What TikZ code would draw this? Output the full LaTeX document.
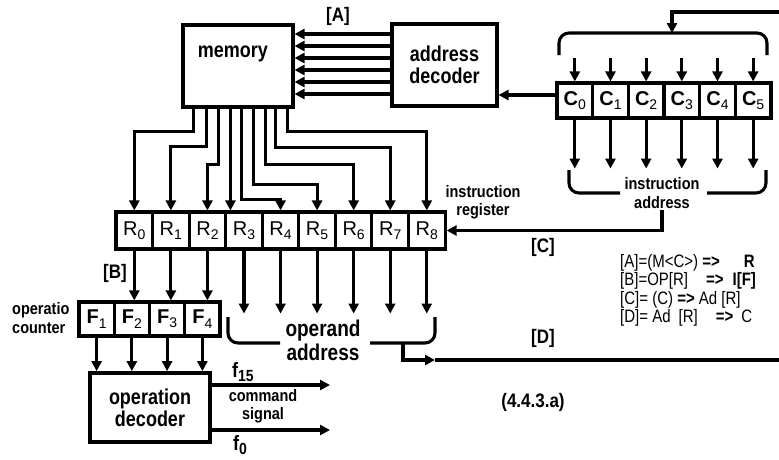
\documentclass[tikz,border=0pt]{standalone}
\usepackage{fontspec}
\setmainfont{Liberation Sans}
\usetikzlibrary{arrows.meta, calc}

\newcommand{\lsub}[1]{\raisebox{-0.4ex}{\fontsize{14}{14}\selectfont #1}}

\begin{document}
\begin{tikzpicture}[x=1pt, y=-1pt,
    wire/.style={line width=3.1pt},
    arr/.style={wire, -{Triangle[length=10pt, width=10pt]}},
    box/.style={draw, line width=3.1pt, inner sep=0pt},
    cell/.style={box, minimum height=37pt, font=\fontsize{20}{20}\selectfont},
    lbl/.style={font=\bfseries\fontsize{17}{17}\selectfont, yscale=1.15},
    small/.style={font=\bfseries\fontsize{14.5}{16}\selectfont, align=center, inner sep=1pt, yscale=1.15},
    big/.style={font=\bfseries\fontsize{18}{18.5}\selectfont, align=center, yscale=1.2}]
  \useasboundingbox (0,0) rectangle (779,459);

  \node[box, minimum width=110pt, minimum height=82pt] (memory) at (238,66) {};
  \node[big] (memtxt) at (233,54) {memory};
  \node[box, big, minimum width=105pt, minimum height=68.3pt] (adec) at (444.5,65) {address\\decoder};
  \node[lbl] (labA) at (338,16) {[A]};
  \foreach \y in {34,46,58,70,82,94}
    \draw[arr] (adec.west |- 0,\y) -- (memory.east |- 0,\y);

  \foreach \i in {0,...,5}
    \node[cell, minimum width=35.67pt, minimum height=35pt] (c\i) at (574.8+35.67*\i,100.5) {{\bfseries C}\lsub{\i}};
  \foreach \i in {0,...,8}
    \node[cell, minimum width=36.56pt] (r\i) at (134.3+36.56*\i,230.5) {R\lsub{\i}};
  \foreach \i in {1,...,4}
    \node[cell, minimum width=35.25pt, minimum height=34pt] (f\i) at (96.6+35.25*\i-35.25,319) {{\bfseries F}\lsub{\i}};

  % memory outputs to the register
  \foreach \k/\dx in {1/12,2/25,3/37,4/49,5/60,6/72,7/84,8/94,9/106}
    \coordinate (m\k) at ($(memory.south west)+(\dx,0)$);
  \foreach \k/\r/\d in {1/0/23,2/1/38,3/2/56,5/4/91,6/5/76,7/6/56,8/7/39,9/8/23}
    \draw[arr] (m\k) -- ++(0,\d) -| (r\r.north);
  \draw[arr] (m4) -- (m4 |- r3.north);

  % counter
  \draw[arr] (c0.west |- 0,95) -- (adec.east |- 0,95);
  \foreach \i in {0,...,5} {
    \draw[arr] ([yshift=23pt]c\i.north) -- (c\i.north);
    \draw[arr] (c\i.south) -- ++(0,49);
  }
  \draw[wire, rounded corners=10pt] (559,55) -- (559,33) -- (767,33) -- (767,55);
  \coordinate (ctop) at (672,33);
  \coordinate (fbin) at (779,12);
  \draw[arr] (fbin) -| (ctop);
  \draw[wire, rounded corners=10pt] (620,193) -- (569,193) -- (569,170);
  \draw[wire, rounded corners=10pt] (707,193) -- (766,193) -- (766,170);
  \node[small] (iaddr) at (662,193) {instruction\\address};
  \draw[arr] (iaddr.south) |- (r8.east);
  \node[small] (irlbl) at (483,202) {instruction\\register};
  \node[lbl] (labC) at (543,247) {[C]};

  % operation part
  \node[lbl] (labB) at (115,273) {[B]};
  \foreach \r/\f in {0/2,1/3,2/4}
    \draw[arr] (r\r.south) -- (r\r.south |- f\f.north);
  \node[small, align=left, anchor=west] (opcnt) at (11,318) {operatio\\counter};
  \node[box, big, minimum width=120pt, minimum height=57.5pt] (opdec) at (150,407.5) {operation\\decoder};
  \foreach \i in {1,...,4}
    \draw[arr] (f\i.south) -- (f\i.south |- opdec.north);
  \coordinate (s15) at (330,385);
  \coordinate (s0) at (330,430);
  \draw[arr] (opdec.east |- s15) -- (s15);
  \draw[arr] (opdec.east |- s0) -- (s0);
  \node[font=\bfseries\fontsize{18}{18}\selectfont, yscale=1.15] (f15) at (243,372) {f\lsub{15}};
  \node[font=\bfseries\fontsize{18}{18}\selectfont, yscale=1.15] (f0) at (240,445) {f\lsub{0}};
  \node[small] (cmd) at (263,406) {command\\signal};

  % operand part
  \foreach \i in {3,...,8}
    \draw[arr] (r\i.south) -- ++(0,63);
  \draw[wire, rounded corners=10pt] (280,343) -- (228,343) -- (228,317);
  \draw[wire, rounded corners=10pt] (370,343) -- (435,343) -- (435,317);
  \node[big, font=\bfseries\fontsize{19}{20}\selectfont] (opaddr) at (323,340) {operand\\address};
  \coordinate (opout) at (403,343);
  \coordinate (dmid) at (435,360);
  \coordinate (edgeD) at (779,360);
  \draw[arr] (opout) |- (dmid);
  \draw[wire] (dmid) -- (edgeD);
  \node[lbl] (labD) at (543,338) {[D]};

  \node[anchor=north west, align=left, inner sep=0pt, yscale=1.2, font=\fontsize{15}{15.3}\selectfont] (legend) at (620,254)
    {[A]=(M<C>) \textbf{=>}\hspace{24pt}\textbf{R}\\{}%
     [B]=OP[R]\hspace{18pt}\textbf{=>}\hspace{9pt}\textbf{I[F]}\\{}%
     [C]= (C) \textbf{=>} Ad [R]\\{}%
     [D]= Ad\hspace{8pt}[R]\hspace{18pt}\textbf{=>}\hspace{8pt}C};
  \node[lbl] (fig) at (533,402) {(4.4.3.a)};
\end{tikzpicture}
\end{document}
